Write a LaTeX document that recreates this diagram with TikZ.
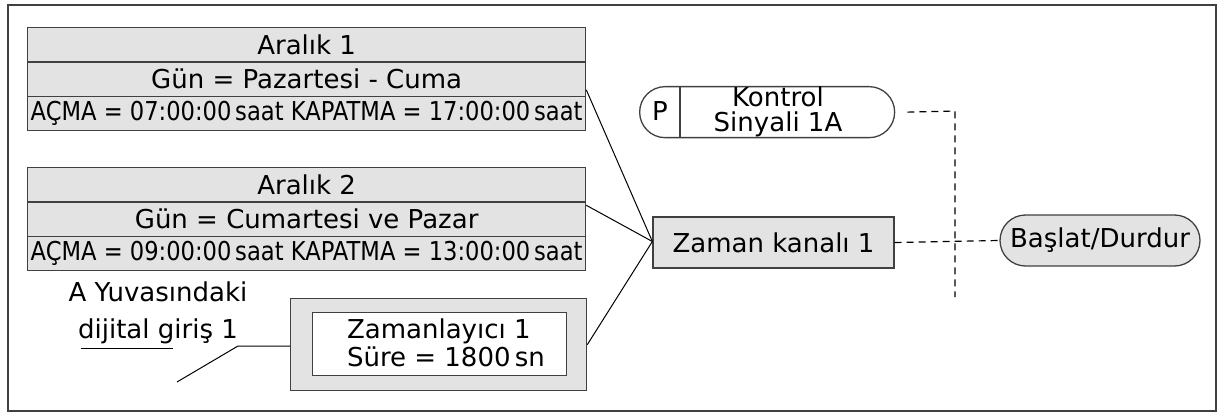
\documentclass[tikz,border=0pt]{standalone}
\usepackage{fontspec}
\setmainfont{DejaVu Sans}
\usetikzlibrary{calc}
\definecolor{boxgray}{HTML}{E3E3E3}
\definecolor{edgegray}{HTML}{404040}
\tikzset{
  row/.style={draw=edgegray, line width=1.3pt, fill=boxgray, inner sep=0pt,
    minimum width=558pt, minimum height=34.3pt, anchor=north west,
    font=\fontsize{26}{28}\selectfont},
  txt/.style={inner sep=0pt, font=\fontsize{26}{26}\selectfont},
  conn/.style={line width=1pt, black},
  dashconn/.style={line width=1.2pt, black, dash pattern=on 7pt off 5pt},
}
\begin{document}
\begin{tikzpicture}[x=1pt,y=-1pt]
\useasboundingbox (0,0) rectangle (1219,417);
\draw[line width=1.3pt, edgegray] (8,5) rectangle (1216,411);
% Interval 1
\node[row] (a1t) at (27,27) {Aralık 1};
\node[row] (a1g) at (27,61.3) {Gün = Pazartesi - Cuma};
\node[row] (a1o) at (27,95.6) {\scalebox{0.87}[1]{AÇMA = 07:00:00\,saat KAPATMA = 17:00:00\,saat}};
% Interval 2
\node[row] (a2t) at (27,167) {Aralık 2};
\node[row] (a2g) at (27,201.3) {Gün = Cumartesi ve Pazar};
\node[row] (a2o) at (27,235.6) {\scalebox{0.87}[1]{AÇMA = 09:00:00\,saat KAPATMA = 13:00:00\,saat}};
% Timer
\node[draw=edgegray, line width=1.3pt, fill=boxgray, minimum width=296pt, minimum height=92pt, anchor=north west, inner sep=0pt] (tm) at (290,298) {};
\node[draw=edgegray, line width=1pt, fill=white, minimum width=254pt, minimum height=63pt, anchor=north west, inner sep=0pt] (tmi) at (312,312) {};
\node[txt, align=left, font=\fontsize{26}{28}\selectfont] (tmt) at (446,343) {Zamanlayıcı 1\\Süre = 1800\,sn};
% Digital input label
\node[txt, align=center, font=\fontsize{26}{37}\selectfont] (din) at (158,313) {A Yuvasındaki\\dijital giriş 1};
\coordinate (ul1) at (81,348);
\coordinate (ul2) at (173,348);
\coordinate (ld1) at (177,382);
\coordinate (ld2) at (238,346);
\draw[conn] (ul1) -- (ul2);
\draw[conn] (ld1) -- (ld2) -- (ld2 -| tm.west);
% Time channel
\node[draw=edgegray, line width=1.3pt, fill=boxgray, minimum width=241pt, minimum height=51pt, inner sep=0pt, txt] (zk) at (773.5,242.5) {Zaman kanalı 1};
% Control signal pill
\node[draw=edgegray, line width=1.3pt, fill=white, rounded corners=25.5pt, minimum width=255pt, minimum height=51pt, inner sep=0pt, anchor=north west] (ks) at (639,86) {};
\draw[edgegray, line width=1.1pt] ($(ks.north west)+(41,0)$) coordinate (kp1) -- ($(ks.south west)+(41,0)$) coordinate (kp2);
\node[txt] (kp) at (660,111) {P};
\node[txt, align=center, font=\fontsize{26}{25}\selectfont] (kst) at (778,112) {Kontrol\\Sinyali 1A};
% Start/stop pill
\node[draw=edgegray, line width=1.3pt, fill=boxgray, rounded corners=25.5pt, minimum width=200pt, minimum height=51pt, inner sep=0pt, txt] (bd) at (1100,240.5) {Başlat/Durdur};
% Solid connectors
\coordinate (zin) at ($(zk.west)+(0,-1)$);
\draw[conn] ($(a1g.south east)+(0,-7)$) -- (zin);
\draw[conn] ($(a2g.north east)+(0,4)$) -- (zin);
\draw[conn] (tm.east) -- (zin);
% Dashed connectors
\coordinate (dv1) at (955,111);
\coordinate (dv2) at (955,297);
\draw[dashconn] ($(ks.east)+(12,0)$) -- (dv1) -- (dv2);
\draw[dashconn] (zk.east) -- (bd.west);
\end{tikzpicture}
\end{document}
